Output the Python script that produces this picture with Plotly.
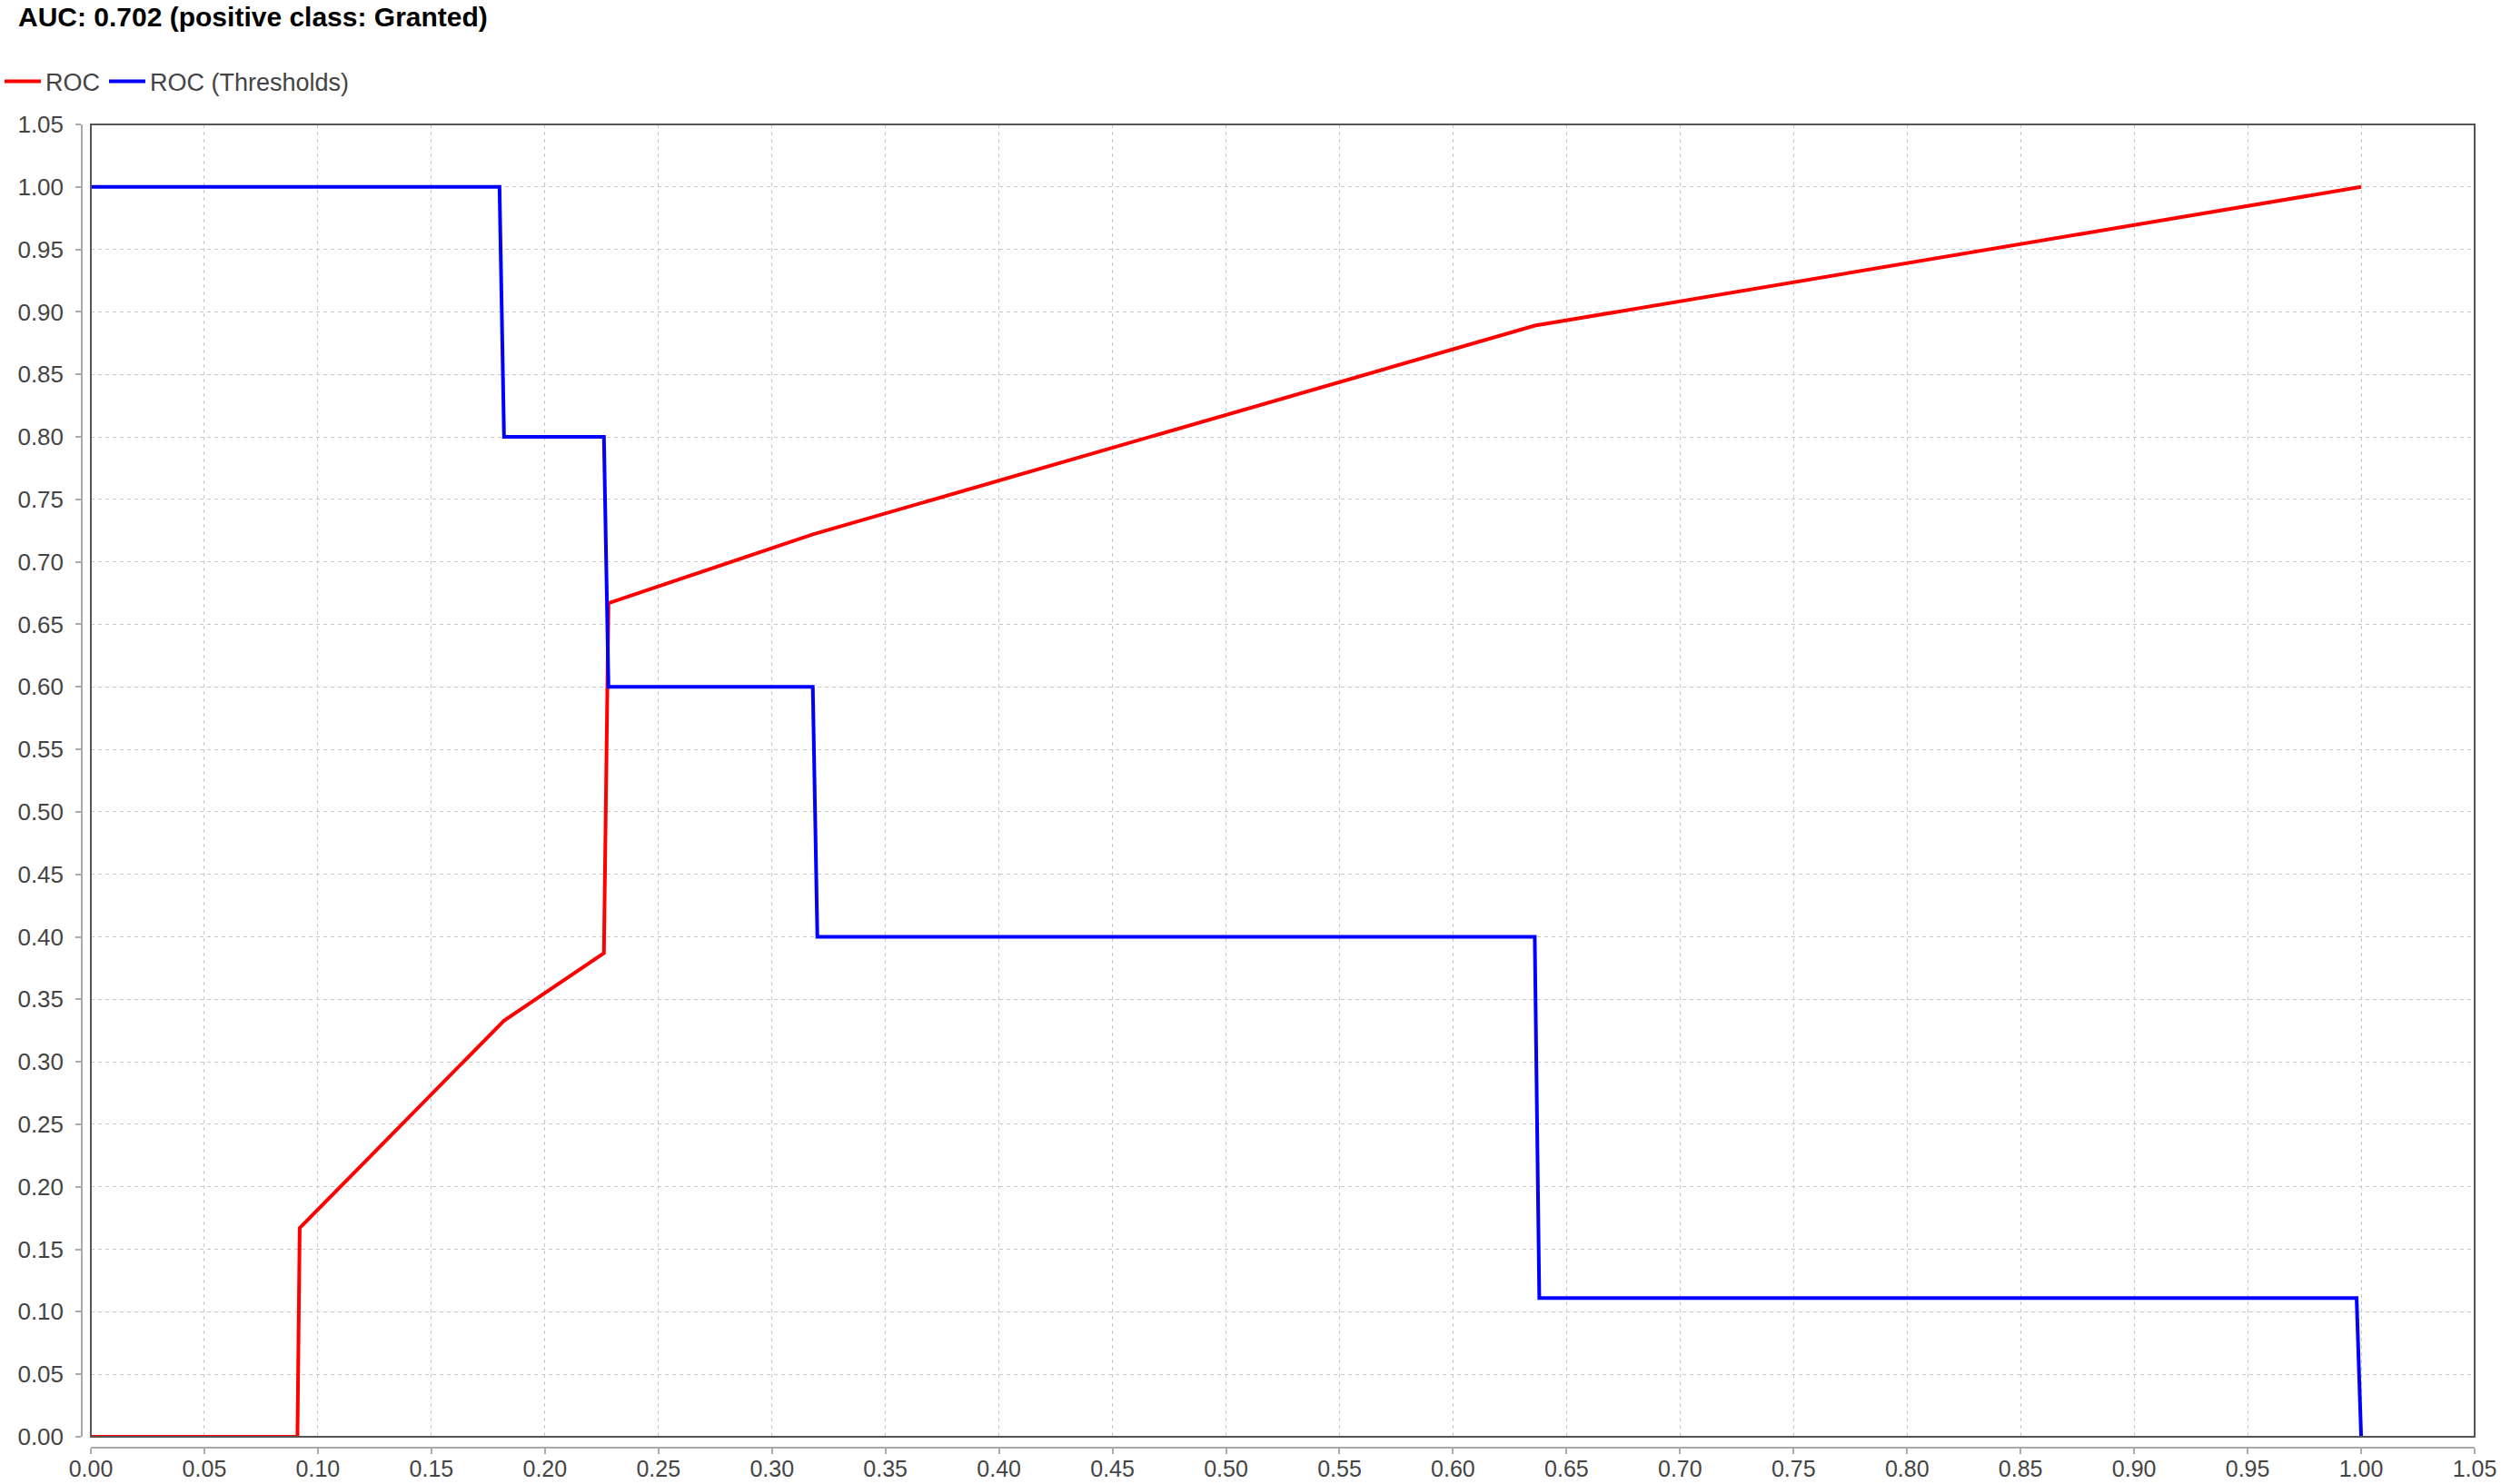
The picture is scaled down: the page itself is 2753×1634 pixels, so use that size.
import plotly.graph_objects as go

# ROC curve (positive class: Granted)
roc_fpr = [0.0, 0.091, 0.092, 0.182, 0.226, 0.228, 0.318, 0.636, 1.0]
roc_tpr = [0.0, 0.0, 0.167, 0.333, 0.387, 0.667, 0.722, 0.889, 1.0]

# ROC thresholds
thr_x = [0.0, 0.180, 0.182, 0.226, 0.228, 0.318, 0.320, 0.636, 0.638, 0.998, 1.0]
thr_y = [1.0, 1.0, 0.80, 0.80, 0.60, 0.60, 0.40, 0.40, 0.111, 0.111, 0.0]

title_text = 'AUC: 0.702 (positive class: Granted)'

W, H = 2753, 1634
L, R, T, B = 80, 29, 137, 30
pw = W - L - R
ph = H - T - B

font_family = 'Liberation Sans, Arial, sans-serif'

fig = go.Figure()

fig.add_trace(go.Scatter(x=roc_fpr, y=roc_tpr, mode='lines', name='ROC',
    line=dict(width=4, color='#ff0000')))

fig.add_trace(go.Scatter(x=thr_x, y=thr_y, mode='lines', name='ROC (Thresholds)',
    line=dict(width=4, color='#0000ff')))

tick_vals = [round(i * 0.05, 2) for i in range(22)]

axis_style = dict(
    range=[0, 1.05],
    anchor='free',
    automargin=False,
    tickvals=tick_vals,
    tickformat='.2f',
    ticks='outside', ticklen=6, tickcolor='#aaaaaa', tickwidth=1.5,
    showline=True, linecolor='#aaaaaa', linewidth=1.5,
    showgrid=True, gridcolor='#c8c8c8', gridwidth=1, griddash='4px,4px',
    zeroline=False,
    tickfont=dict(size=26, color='#444444', family=font_family),
)

fig.update_xaxes(
    domain=[(100 - L) / pw, 1.0],
    position=(H - B - 1594) / ph,
    ticklabelstandoff=-5,
    **axis_style
)
fig.update_xaxes(tickfont_size=25)
fig.update_yaxes(
    domain=[(H - B - 1582) / ph, 1.0],
    position=(90 - L) / pw,
    ticklabelstandoff=8,
    **axis_style
)

# plot frame
fig.add_shape(type='rect', xref='x domain', yref='y domain',
    x0=0, x1=1, y0=0, y1=1, line=dict(color='#555555', width=2), layer='above')

fig.update_layout(
    width=W, height=H,
    margin=dict(l=L, r=R, t=T, b=B, autoexpand=False),
    plot_bgcolor='white',
    paper_bgcolor='white',
    title=dict(
        text='<b>' + title_text + '</b>',
        font=dict(size=30, color='black', family=font_family),
        x=20 / W, xref='container', xanchor='left',
        y=1 - 18 / H, yref='container', yanchor='middle'
    ),
    showlegend=True,
    legend=dict(
        orientation='h',
        xref='container', yref='container',
        x=-3 / W, xanchor='left',
        y=1 - 90 / H, yanchor='middle',
        font=dict(size=27, color='#444444', family=font_family),
        itemwidth=40,
        bgcolor='rgba(0,0,0,0)'
    )
)

# drop the default page margin so the figure sits at the window's corner
fig.write_html('out.html', config={'displayModeBar': False},
               post_script="document.body.style.margin='0';")
